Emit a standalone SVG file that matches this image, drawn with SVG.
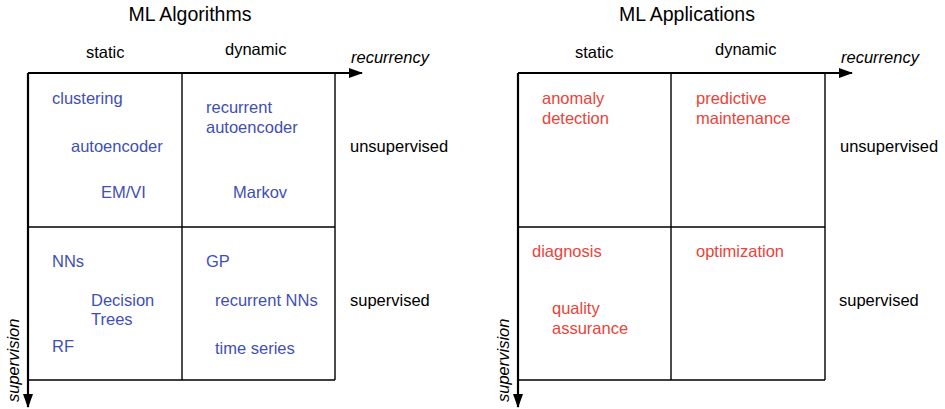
<svg xmlns="http://www.w3.org/2000/svg" width="945" height="409" viewBox="0 0 945 409">
<defs>
<marker id="ah" markerWidth="14" markerHeight="10" refX="13" refY="5" orient="auto" markerUnits="userSpaceOnUse">
<path d="M0,0 L14,5 L0,10 Z" fill="#000"/>
</marker>
<style>
text{font-family:"Liberation Sans",Arial,sans-serif;font-size:16.5px;fill:#000}
.t{font-size:19.5px}
.i{font-style:italic}
.b{fill:#3f4fb5}
.r{fill:#e8443a}
.g{fill:none;stroke:#000;stroke-width:1.4}
.ax{fill:none;stroke:#000;stroke-width:2.2}
</style>
</defs>
<rect width="945" height="409" fill="#fff"/>
<g id="left-title"><text class="t" x="190" y="21" text-anchor="middle">ML Algorithms</text>
<text x="86" y="58">static</text><text x="225" y="55">dynamic</text>
<text class="i" x="351" y="63">recurrency</text>
<text x="350" y="152">unsupervised</text><text x="350" y="306">supervised</text>
<text class="i" transform="translate(19,402) rotate(-90)">supervision</text></g>
<g id="right-title"><text class="t" x="687" y="21" text-anchor="middle">ML Applications</text>
<text x="575" y="58">static</text><text x="715" y="55">dynamic</text>
<text class="i" x="841" y="63">recurrency</text>
<text x="840" y="152">unsupervised</text><text x="839" y="306">supervised</text>
<text class="i" transform="translate(509,402) rotate(-90)">supervision</text></g>
<g id="connectors">
<path class="g" d="M182,73 V380 M335,73 V380 M28,227 H335 M28,380 H335"/>
<path class="g" d="M671,73 V380 M825,73 V380 M518,227 H825 M518,380 H825"/>
<path class="ax" d="M28,73 H362" marker-end="url(#ah)"/>
<path class="ax" d="M28,73 V407" marker-end="url(#ah)"/>
<path class="ax" d="M518,73 H852" marker-end="url(#ah)"/>
<path class="ax" d="M518,73 V407" marker-end="url(#ah)"/>
</g>
<g id="alg-static-unsup"><text class="b" x="52" y="104">clustering</text><text class="b" x="71" y="152">autoencoder</text><text class="b" x="101" y="198">EM/VI</text></g>
<g id="alg-dynamic-unsup"><text class="b" x="206" y="113">recurrent</text><text class="b" x="206" y="133">autoencoder</text><text class="b" x="233" y="198">Markov</text></g>
<g id="alg-static-sup"><text class="b" x="52" y="267">NNs</text><text class="b" x="91" y="306">Decision</text><text class="b" x="91" y="325">Trees</text><text class="b" x="52" y="352">RF</text></g>
<g id="alg-dynamic-sup"><text class="b" x="206" y="267">GP</text><text class="b" x="215" y="306">recurrent NNs</text><text class="b" x="215" y="354">time series</text></g>
<g id="app-static-unsup"><text class="r" x="542" y="104">anomaly</text><text class="r" x="542" y="124">detection</text></g>
<g id="app-dynamic-unsup"><text class="r" x="696" y="104">predictive</text><text class="r" x="696" y="124">maintenance</text></g>
<g id="app-static-sup"><text class="r" x="532" y="257">diagnosis</text><text class="r" x="552" y="314">quality</text><text class="r" x="552" y="334">assurance</text></g>
<g id="app-dynamic-sup"><text class="r" x="696" y="257">optimization</text></g>
</svg>
